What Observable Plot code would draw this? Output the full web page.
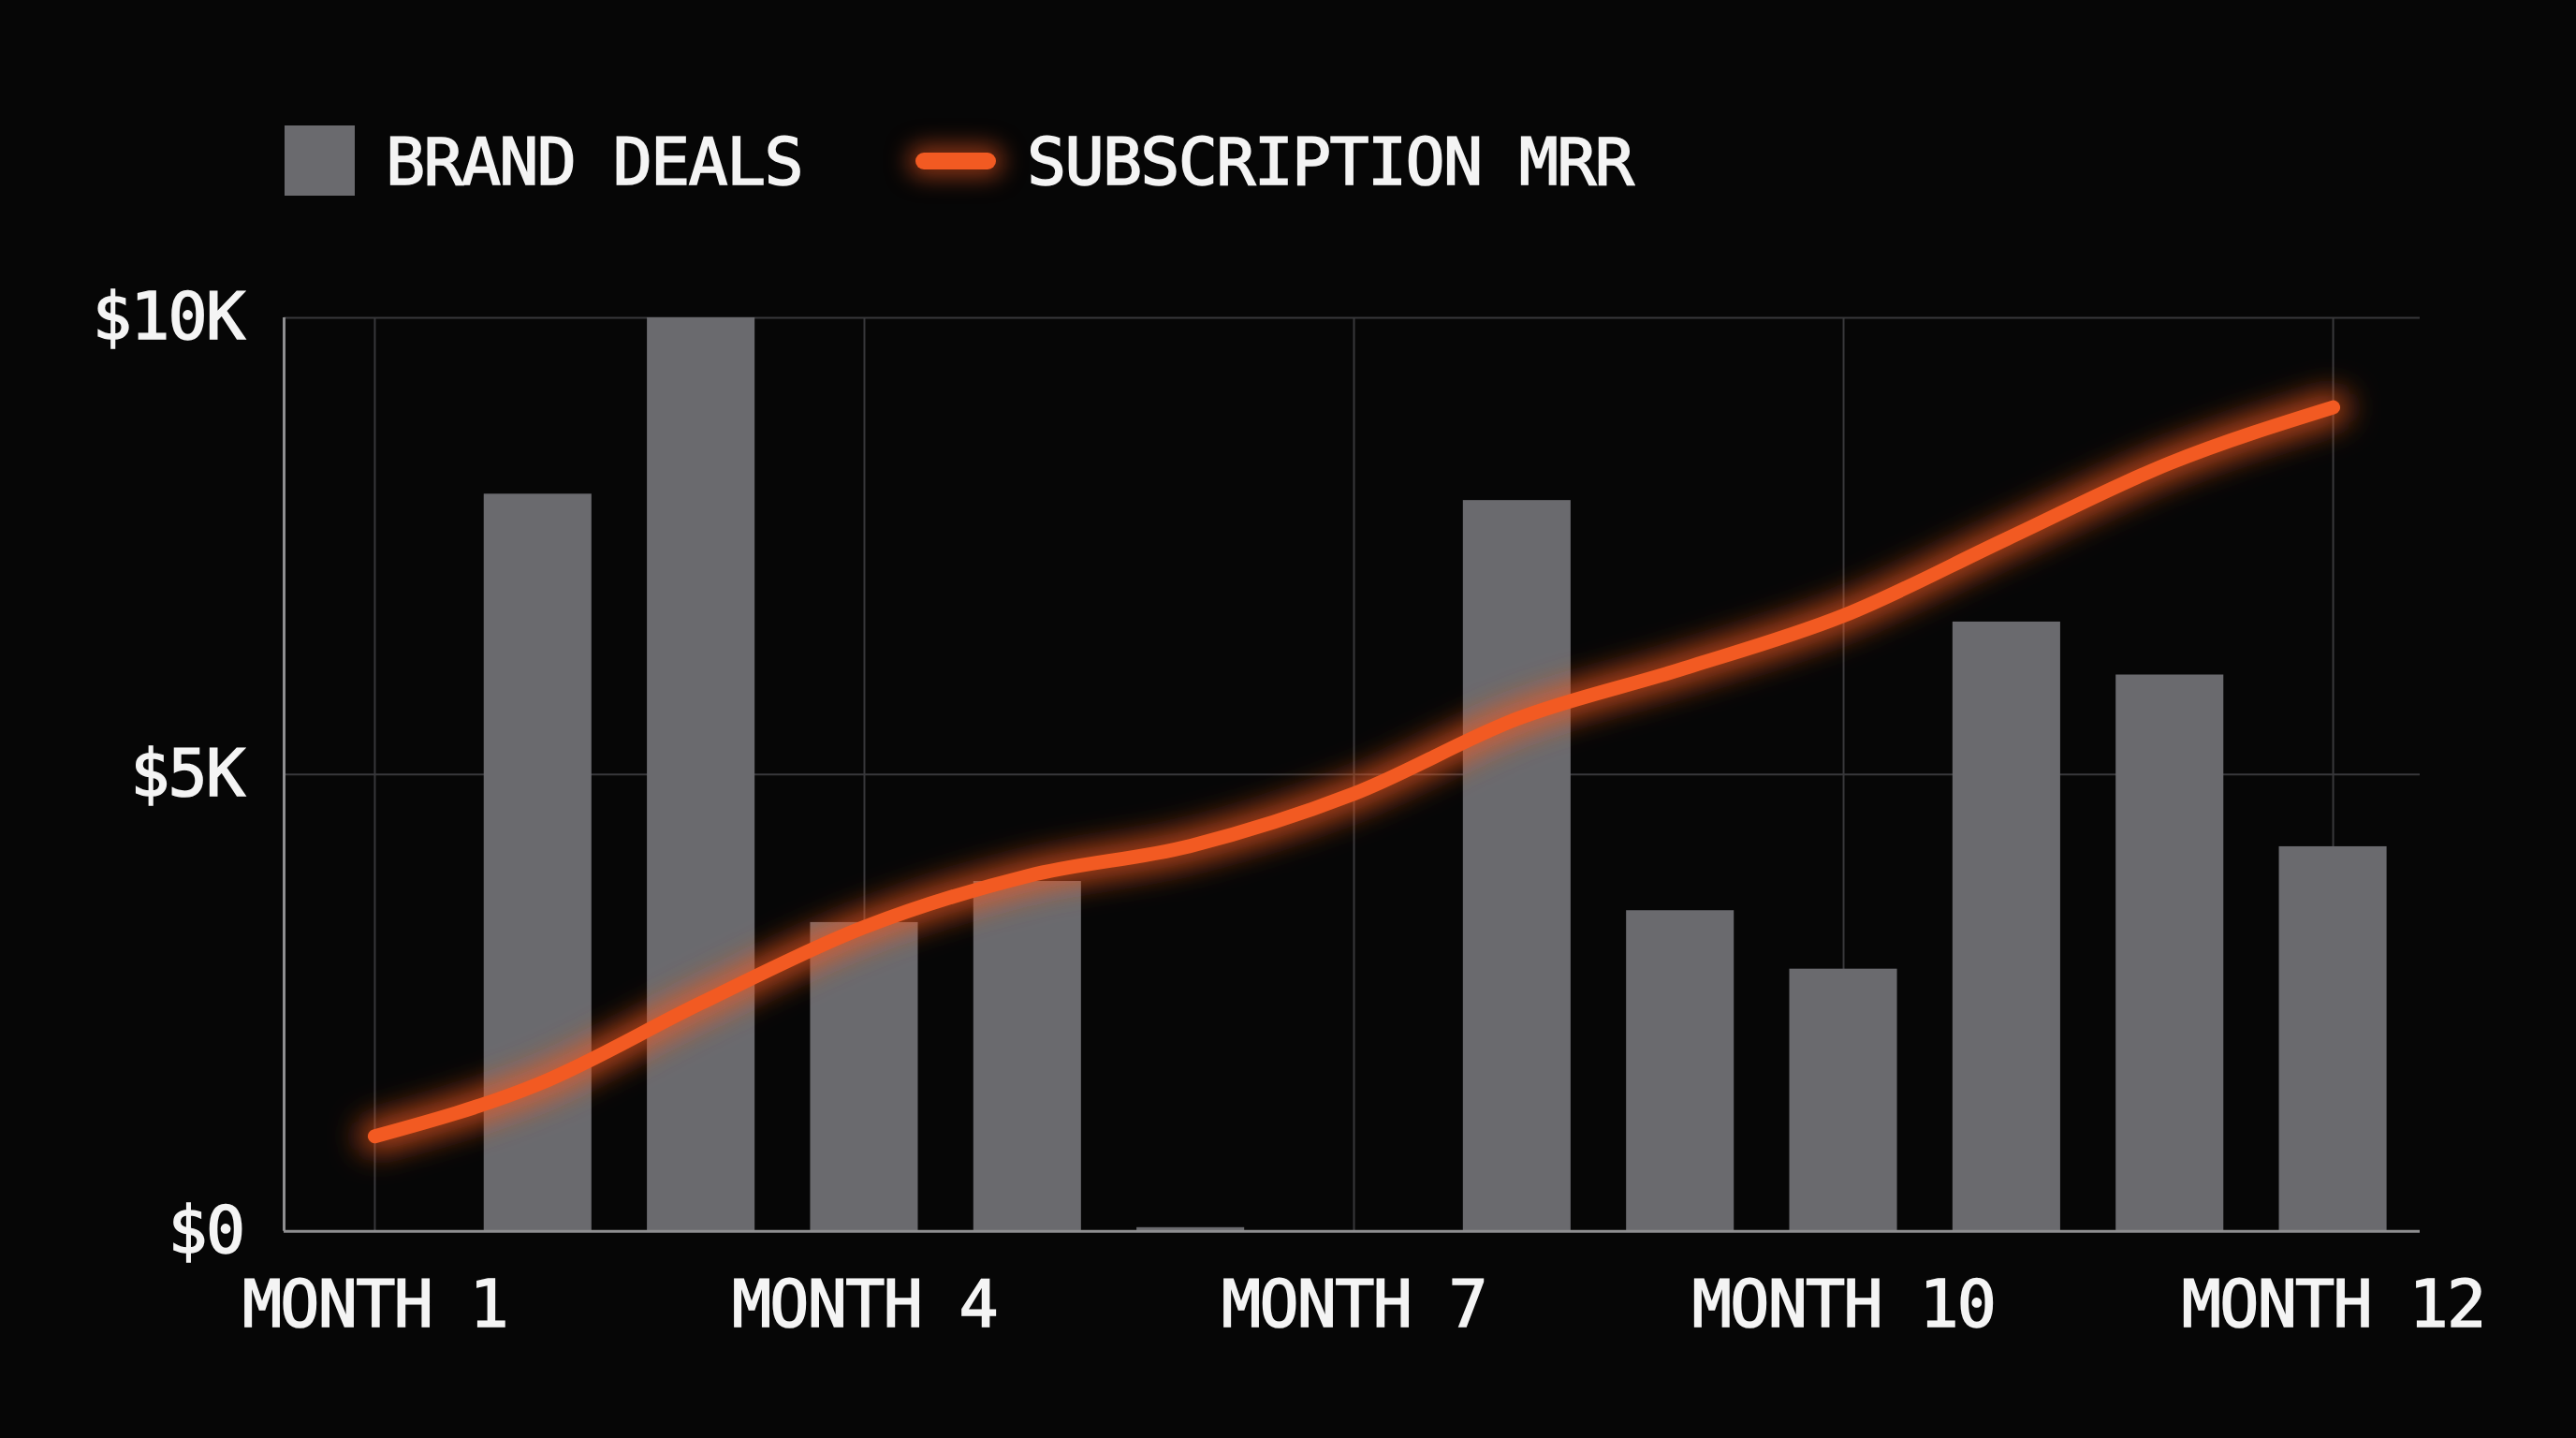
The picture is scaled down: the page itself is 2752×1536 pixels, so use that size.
<!DOCTYPE html>
<html>
<head>
<meta charset="utf-8">
<script src="https://cdn.jsdelivr.net/npm/d3@7"></script>
<script src="https://cdn.jsdelivr.net/npm/@observablehq/plot@0.6"></script>
<style>
  html, body { margin: 0; padding: 0; background: #060606; overflow: hidden; }
  #wrap { position: relative; width: 2752px; height: 1536px; background: #060606; }
  #legend { position: absolute; left: 0; top: 0; width: 2752px; height: 260px;
            font-family: "DejaVu Sans Mono", monospace; color: #f4f4f4; font-size: 70px;
            letter-spacing: -1.7px; line-height: 70px; -webkit-text-stroke: 1.6px #f4f4f4; }
  #legend .sw-bar { position: absolute; left: 304px; top: 134px; width: 75px; height: 75px; background: #6a6a6e; }
  #legend .sw-line { position: absolute; left: 978px; top: 163px; width: 86px; height: 18px; border-radius: 9px;
                     background: #f25a22; box-shadow: 0 0 24px 8px rgba(242,90,34,0.55); }
  #legend .lab { position: absolute; top: 138px; white-space: nowrap; }
  #chart { position: absolute; left: 0; top: 260px; }
  #chart text { stroke: #f4f4f4; stroke-width: 1.6px; paint-order: stroke; }
</style>
</head>
<body>
<div id="wrap">
  <div id="legend">
    <div class="sw-bar"></div>
    <div class="lab" style="left:412px">BRAND DEALS</div>
    <div class="sw-line"></div>
    <div class="lab" style="left:1097px">SUBSCRIPTION MRR</div>
  </div>
  <div id="chart"></div>
</div>
<script>
// ---- data ----
const periods = [0, 1, 2, 3, 4, 5, 6, 7, 8, 9, 10, 11, 12];
const brandDeals = [null, 8070, 10000, 3380, 3830, 40, null, 8000, 3510, 2870, 6670, 6090, 4210];
const subscriptionMRR = [1040, 1610, 2500, 3330, 3890, 4220, 4790, 5610, 6150, 6740, 7580, 8410, 9020];
const xTickValues = [0, 3, 6, 9, 12];
const xTickLabels = ["MONTH 1", "MONTH 4", "MONTH 7", "MONTH 10", "MONTH 12"];
const yTickValues = [0, 5000, 10000];
const yTickLabels = ["$0", "$5K", "$10K"];

// ---- styles ----
const ORANGE = "#f25a22";
const BAR = "#6a6a6e";
const GRID = "#38383b";
const AXIS = "#8e8e90";
const TEXT = "#f4f4f4";
const xDomain = [-0.556, 12.533];
const barHalf = 0.33;

const bars = periods.map((p, i) => ({p, v: brandDeals[i]})).filter(d => d.v != null);
const mrr = periods.map((p, i) => ({p, v: subscriptionMRR[i]}));

const chart = Plot.plot({
  width: 2752,
  height: 1276,
  marginTop: 79,
  marginBottom: 221.3,
  marginLeft: 303,
  marginRight: 167,
  style: {background: "transparent", color: TEXT, fontFamily: "'DejaVu Sans Mono', monospace",
          fontSize: "70px", letterSpacing: "-1.7px"},
  x: {type: "linear", domain: xDomain},
  y: {domain: [0, 10000]},
  marks: [
    Plot.ruleY(yTickValues.filter(d => d > 0), {stroke: GRID, strokeWidth: 2}),
    Plot.ruleX(xTickValues, {stroke: GRID, strokeWidth: 2}),
    Plot.rectY(bars, {x1: d => d.p - barHalf, x2: d => d.p + barHalf, y: "v", fill: BAR}),
    Plot.lineY(mrr, {x: "p", y: "v", stroke: ORANGE, strokeWidth: 34, strokeOpacity: 0.8, curve: "monotone-x"}),
    Plot.lineY(mrr, {x: "p", y: "v", stroke: ORANGE, strokeWidth: 15, curve: "monotone-x"}),
    Plot.ruleX([xDomain[0]], {stroke: AXIS, strokeWidth: 3}),
    Plot.ruleY([0], {stroke: AXIS, strokeWidth: 3}),
    Plot.axisY(yTickValues, {tickSize: 0, tickPadding: 43, label: null,
      tickFormat: d => yTickLabels[yTickValues.indexOf(d)], fontSize: 70, fill: TEXT}),
    Plot.axisX(xTickValues, {tickSize: 0, tickPadding: 52, label: null,
      tickFormat: d => xTickLabels[xTickValues.indexOf(d)], fontSize: 70, fill: TEXT})
  ]
});

// glow filter for the wide underlay line
const ns = "http://www.w3.org/2000/svg";
const defs = document.createElementNS(ns, "defs");
defs.innerHTML = '<filter id="glow" x="-10%" y="-30%" width="120%" height="160%"><feGaussianBlur stdDeviation="16"/></filter>';
chart.insertBefore(defs, chart.firstChild);
const lineGroups = chart.querySelectorAll('g[aria-label="line"]');
if (lineGroups.length) lineGroups[0].setAttribute("filter", "url(#glow)");

document.getElementById("chart").appendChild(chart);
</script>
</body>
</html>
